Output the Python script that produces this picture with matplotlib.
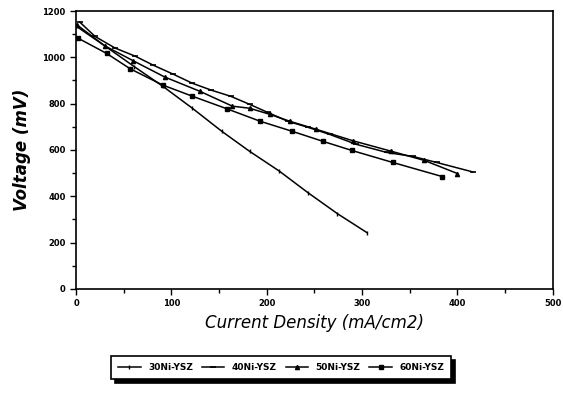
import matplotlib
matplotlib.use("Agg")
import matplotlib.pyplot as plt
from matplotlib.ticker import MultipleLocator

# --- data ---
labels = ["30Ni-YSZ", "40Ni-YSZ", "50Ni-YSZ", "60Ni-YSZ"]

x_30 = [0, 30, 61, 91, 122, 153, 182, 213, 243, 274, 305]
v_30 = [1135, 1050, 960, 875, 780, 680, 594, 509, 416, 325, 243]

x_40 = [4, 20, 41, 62, 81, 102, 122, 142, 162, 182, 201, 222, 243, 266, 294, 326, 353, 378, 416]
v_40 = [1152, 1090, 1040, 1005, 966, 927, 888, 858, 832, 797, 762, 724, 698, 667, 624, 589, 572, 546, 505]

x_50 = [1, 30, 60, 93, 130, 164, 182, 203, 224, 252, 290, 330, 365, 400]
v_50 = [1140, 1050, 985, 915, 853, 789, 780, 754, 724, 689, 640, 595, 555, 498]

x_60 = [2, 32, 57, 91, 122, 158, 193, 227, 259, 289, 332, 384]
v_60 = [1083, 1017, 950, 880, 832, 778, 724, 680, 637, 598, 546, 485]

fig = plt.figure(figsize=(5.63, 3.93), dpi=100)
ax = fig.add_axes([0.135, 0.265, 0.847, 0.707])

ax.plot(x_30, v_30, color="black", lw=1.1, marker="|", ms=3, mew=1, label=labels[0])
ax.plot(x_40, v_40, color="black", lw=1.1, marker="_", ms=5, mew=1.2, label=labels[1])
ax.plot(x_50, v_50, color="black", lw=1.1, marker="^", ms=3, label=labels[2])
ax.plot(x_60, v_60, color="black", lw=1.1, marker="s", ms=3, label=labels[3])

ax.set_xlim(0, 500)
ax.set_ylim(0, 1200)
ax.xaxis.set_major_locator(MultipleLocator(100))
ax.xaxis.set_minor_locator(MultipleLocator(50))
ax.yaxis.set_major_locator(MultipleLocator(200))
ax.yaxis.set_minor_locator(MultipleLocator(100))
ax.tick_params(which="both", direction="out", width=1, labelsize=6)
ax.tick_params(which="major", length=4)
ax.tick_params(which="minor", length=3)
for lab in ax.get_xticklabels() + ax.get_yticklabels():
    lab.set_fontweight("bold")
for s in ax.spines.values():
    s.set_linewidth(1.2)

ax.set_xlabel("Current Density (mA/cm2)", fontsize=12, style="italic", labelpad=4)
ax.set_ylabel("Voltage (mV)", fontsize=12, style="italic", fontweight="bold", labelpad=8)

leg = ax.legend(loc="upper center", bbox_to_anchor=(0.43, -0.225), ncol=4, fontsize=6.5,
                frameon=True, fancybox=False,
                shadow={"color": "black", "alpha": 1.0, "ox": 3, "oy": -3},
                edgecolor="black", handlelength=2.5, columnspacing=1.0, borderpad=0.8)
leg.get_frame().set_linewidth(1.2)
for t in leg.get_texts():
    t.set_fontweight("bold")

fig.savefig("out.png", dpi=100)
